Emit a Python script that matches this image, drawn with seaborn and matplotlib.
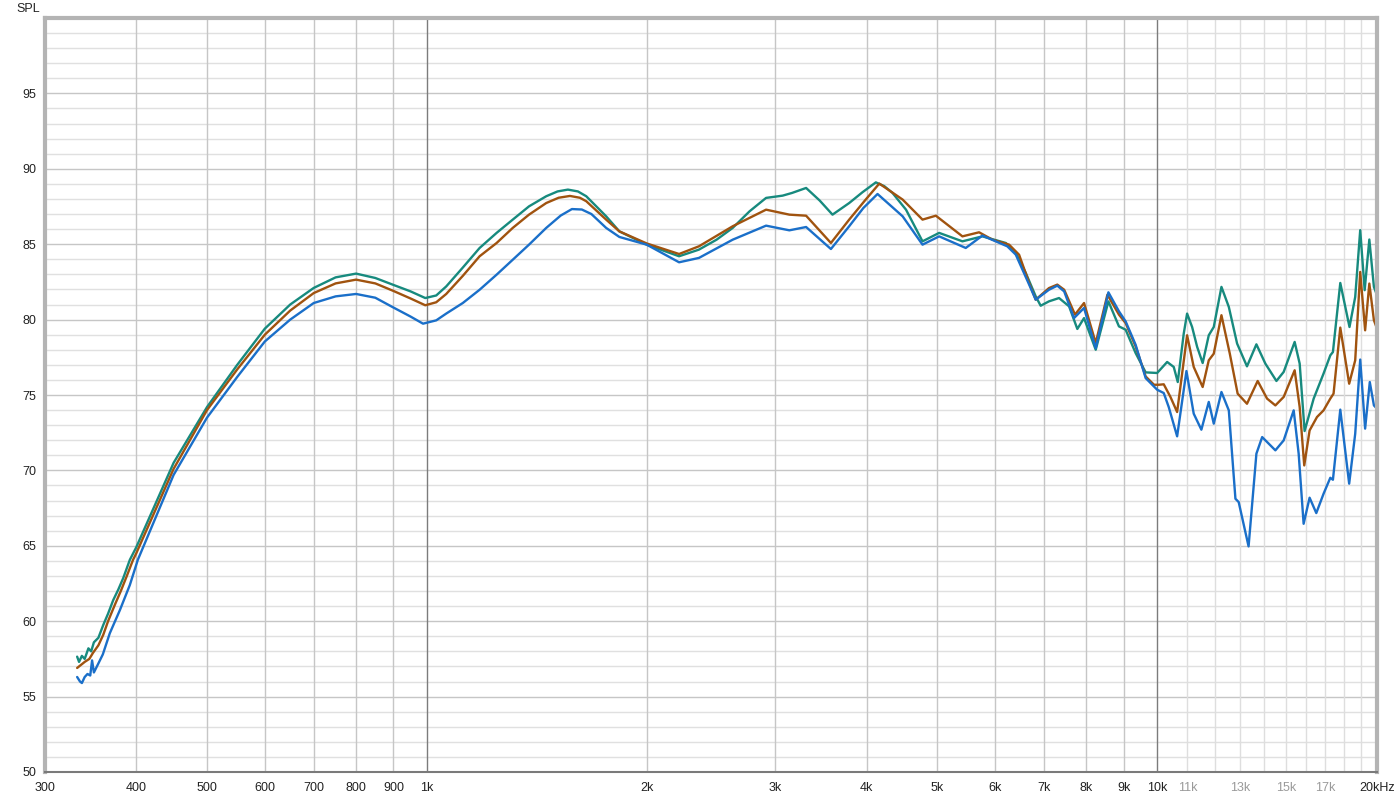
import numpy as np
import pandas as pd
import matplotlib
matplotlib.use("Agg")
import matplotlib.pyplot as plt
import seaborn as sns

# --- data (frequency in Hz, SPL in dB) ---
green_freq = [332, 334, 337, 340, 344, 347, 350, 355, 360.5, 366, 372, 378, 384, 392, 400,
              450, 500, 550, 600, 650, 700, 750, 800, 850, 900, 950, 995, 1030, 1063, 1120,
              1181, 1246, 1311, 1380, 1457, 1510, 1560, 1610, 1653, 1760, 1835, 2000, 2215,
              2358, 2493, 2623, 2766, 2914, 3070, 3163, 3306, 3450, 3593, 3787, 3950, 4119,
              4230, 4341, 4530, 4772, 5029, 5412, 5764, 6206, 6403, 6609, 6819, 6926, 7110,
              7339, 7575, 7775, 7941, 8239, 8575, 8865, 9054, 9344, 9644, 10000, 10320,
              10537, 10671, 10874, 10990, 11165, 11344, 11543, 11767, 11954, 12247, 12535,
              12867, 13274, 13674, 14066, 14565, 14902, 15427, 15673, 15918, 16380, 16898,
              17262, 17405, 17814, 18339, 18672, 18969, 19237, 19522, 19806, 20000]
green_spl = [57.65, 57.3, 57.7, 57.5, 58.2, 58.0, 58.6, 58.9, 59.75, 60.5, 61.4, 62.1, 62.87,
             64.07, 64.9, 70.5, 74.2, 77.0, 79.4, 81.0, 82.1, 82.8, 83.05, 82.76, 82.3, 81.87,
             81.43, 81.6, 82.2, 83.45, 84.75, 85.75, 86.63, 87.51, 88.18, 88.5, 88.62, 88.5,
             88.18, 86.85, 85.85, 84.97, 84.2, 84.64, 85.3, 86.08, 87.18, 88.07, 88.22, 88.4,
             88.73, 87.9, 86.96, 87.73, 88.45, 89.1, 88.85, 88.4, 87.29, 85.19, 85.75, 85.19,
             85.52, 85.08, 84.42, 83.09, 81.54, 80.92, 81.21, 81.43, 80.88, 79.38, 80.1, 78.0,
             81.21, 79.55, 79.33, 77.78, 76.5, 76.46, 77.19, 76.86, 75.86, 79.07, 80.4, 79.51,
             78.19, 77.12, 78.96, 79.51, 82.17, 80.84, 78.41, 76.9, 78.36, 77.08, 75.93,
             76.53, 78.52, 77.08, 72.61, 74.76, 76.42, 77.63, 77.85, 82.43, 79.51, 81.5,
             85.93, 81.95, 85.31, 82.17, 81.62]

brown_freq = [332, 336, 340, 345, 349, 355, 360.5, 366, 374, 381, 388, 396, 400, 450, 500,
              550, 600, 650, 700, 750, 800, 850, 900, 950, 995, 1030, 1063, 1120, 1181, 1246,
              1311, 1380, 1457, 1515, 1570, 1620, 1653, 1760, 1835, 2000, 2215, 2358, 2623,
              2914, 3136, 3306, 3575, 3787, 3980, 4164, 4482, 4772, 4977, 5412, 5704, 5949,
              6270, 6471, 6679, 6819, 7110, 7299, 7459, 7718, 7941, 8239, 8548, 8865, 9054,
              9344, 9644, 9901, 10056, 10210, 10428, 10650, 10990, 11222, 11543, 11767, 11954,
              12247, 12574, 12889, 13274, 13729, 14142, 14517, 14902, 15427, 15673, 15900,
              16171, 16553, 16898, 17262, 17440, 17814, 18320, 18672, 18969, 19265, 19522,
              19806, 20000]
brown_spl = [56.9, 57.1, 57.3, 57.5, 57.9, 58.4, 59.1, 60.0, 61.1, 62.0, 62.96, 64.07, 64.5,
             70.1, 74.0, 76.7, 79.0, 80.6, 81.76, 82.4, 82.65, 82.4, 81.9, 81.4, 80.95, 81.15,
             81.7, 82.9, 84.2, 85.08, 86.08, 86.96, 87.73, 88.08, 88.2, 88.08, 87.85, 86.63,
             85.85, 85.05, 84.35, 84.86, 86.19, 87.29, 86.96, 86.89, 85.08, 86.63, 87.9,
             89.02, 87.96, 86.63, 86.89, 85.52, 85.79, 85.3, 84.97, 84.3, 82.43, 81.32, 82.09,
             82.32, 81.98, 80.33, 81.1, 78.45, 81.65, 80.33, 79.77, 78.22, 76.23, 75.68,
             75.68, 75.71, 74.87, 73.87, 78.96, 76.86, 75.53, 77.3, 77.74, 80.29, 77.74, 75.09,
             74.42, 75.93, 74.76, 74.31, 74.87, 76.64, 74.2, 70.33, 72.65, 73.54, 73.98,
             74.76, 75.09, 79.47, 75.75, 77.3, 83.16, 79.29, 82.39, 79.96, 79.4]

blue_freq = [332, 335, 337, 340, 343, 346, 348, 350, 355, 360, 368, 380, 392, 402, 450, 500,
             550, 600, 650, 700, 750, 800, 850, 900, 950, 988, 1030, 1063, 1120, 1181, 1246,
             1311, 1380, 1457, 1525, 1580, 1630, 1680, 1760, 1835, 2000, 2215, 2358, 2623,
             2914, 3136, 3306, 3575, 3787, 3960, 4141, 4482, 4772, 5029, 5469, 5764, 6234,
             6403, 6679, 6819, 7110, 7299, 7459, 7694, 7941, 8239, 8575, 8865, 9054, 9344,
             9644, 10000, 10210, 10372, 10650, 10967, 11222, 11496, 11767, 11954, 12247,
             12535, 12799, 12931, 13341, 13674, 13925, 14517, 14902, 15380, 15623, 15869,
             16171, 16516, 16898, 17262, 17405, 17814, 18320, 18672, 18969, 19265, 19550,
             19806, 20000]
blue_spl = [56.3, 56.0, 55.9, 56.3, 56.5, 56.4, 57.4, 56.6, 57.2, 57.8, 59.2, 60.75, 62.4,
            64.07, 69.7, 73.5, 76.2, 78.55, 80.0, 81.1, 81.54, 81.7, 81.45, 80.8, 80.2, 79.73,
            79.95, 80.4, 81.1, 81.98, 82.98, 83.97, 84.97, 86.08, 86.9, 87.33, 87.3, 87.0,
            86.08, 85.48, 84.97, 83.8, 84.09, 85.3, 86.23, 85.92, 86.14, 84.68, 86.19, 87.4,
            88.33, 86.85, 84.97, 85.52, 84.75, 85.57, 84.86, 84.31, 82.32, 81.32, 81.98,
            82.25, 81.87, 80.1, 80.77, 78.11, 81.81, 80.55, 79.88, 78.33, 76.12, 75.35, 75.13,
            74.2, 72.26, 76.59, 73.76, 72.7, 74.54, 73.1, 75.2, 73.98, 68.12, 67.9, 64.96,
            71.11, 72.21, 71.33, 71.99, 73.98, 71.11, 66.46, 68.19, 67.17, 68.45, 69.51,
            69.38, 74.03, 69.12, 72.43, 77.35, 72.77, 75.86, 74.31, 74.09]

x_ticks = [300, 400, 500, 600, 700, 800, 900, 1000, 2000, 3000, 4000, 5000, 6000, 7000,
           8000, 9000, 10000, 11000, 13000, 15000, 17000, 20000]
x_tick_labels = ["300", "400", "500", "600", "700", "800", "900", "1k", "2k", "3k", "4k",
                 "5k", "6k", "7k", "8k", "9k", "10k", "11k", "13k", "15k", "17k", "20kHz"]
grey_labels = ["11k", "13k", "15k", "17k"]
y_ticks = [50, 55, 60, 65, 70, 75, 80, 85, 90, 95]

df = pd.concat([
    pd.DataFrame({"freq": green_freq, "spl": green_spl, "trace": "green"}),
    pd.DataFrame({"freq": brown_freq, "spl": brown_spl, "trace": "brown"}),
    pd.DataFrame({"freq": blue_freq, "spl": blue_spl, "trace": "blue"}),
])
palette = {"green": "#178a7e", "brown": "#a0530f", "blue": "#1a6fc9"}

sns.set_style("white")
plt.rcParams["font.family"] = ["Liberation Sans", "DejaVu Sans"]

fig = plt.figure(figsize=(13.98, 7.97), dpi=100)
ax = fig.add_axes([45 / 1398, 1 - 772 / 797, (1377 - 45) / 1398, (772 - 18) / 797])

# grid: 1 dB minor, 5 dB major, darker decades
for y in range(51, 100):
    ax.axhline(y, color="#c6c6c6" if y % 5 == 0 else "#e0e0e0", lw=1, zorder=0)
for f in [300, 400, 500, 600, 700, 800, 900, 2000, 3000, 4000, 5000, 6000, 7000, 8000, 9000]:
    ax.axvline(f, color="#c6c6c6", lw=1, zorder=0)
for f in range(11000, 20000, 1000):
    ax.axvline(f, color="#dedede", lw=1, zorder=0)
for f in [1000, 10000]:
    ax.axvline(f, color="#7c7c7c", lw=1, zorder=0)

sns.lineplot(data=df, x="freq", y="spl", hue="trace", hue_order=["green", "brown", "blue"],
             palette=palette, linewidth=1.7, legend=False, ax=ax, estimator=None, sort=True)
for line in ax.get_lines():
    line.set_solid_joinstyle("round")

ax.set_xscale("log")
ax.set_xlim(300, 20000)
ax.set_ylim(50, 100)
ax.set_xticks(x_ticks)
ax.set_xticklabels(x_tick_labels)
ax.xaxis.set_minor_locator(matplotlib.ticker.NullLocator())
ax.set_yticks(y_ticks)
ax.tick_params(axis="both", length=0, labelsize=9, colors="#222222")
ax.tick_params(axis="x", pad=7)
ax.tick_params(axis="y", pad=6)
for lbl in ax.get_xticklabels():
    if lbl.get_text() in grey_labels:
        lbl.set_color("#9a9a9a")
ax.set_xlabel("")
ax.set_ylabel("")

for side in ["left", "top", "right"]:
    ax.spines[side].set_color("#b4b4b4")
    ax.spines[side].set_linewidth(3)
ax.spines["bottom"].set_color("#7a7a7a")
ax.spines["bottom"].set_linewidth(1.5)

fig.text(16 / 1398, 1 - 9 / 797, "SPL", fontsize=9, color="#222222", va="center", ha="left")

fig.savefig("out.png", dpi=100)
